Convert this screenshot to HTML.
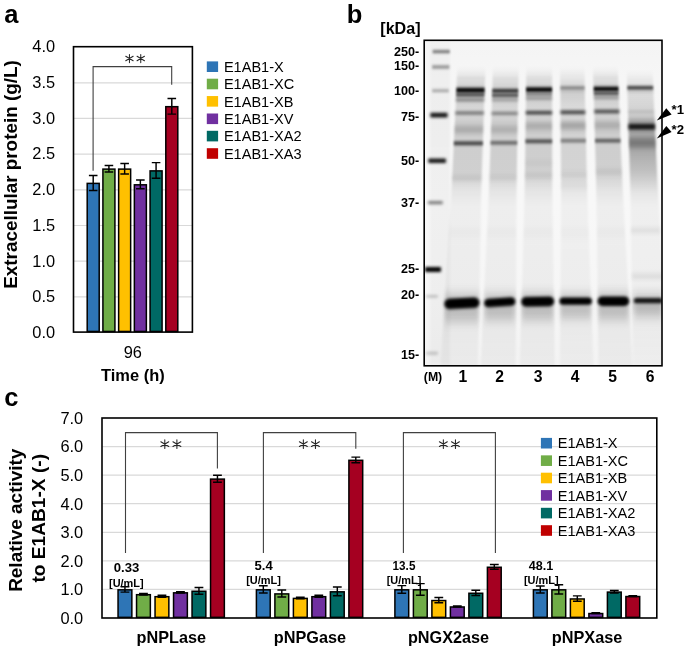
<!DOCTYPE html><html><head><meta charset="utf-8"><title>figure</title>
<style>html,body{margin:0;padding:0;background:#fff;}svg{display:block;will-change:transform;font-family:"Liberation Sans",sans-serif;}</style></head><body>
<svg width="685" height="649" viewBox="0 0 685 649">
<rect width="685" height="649" fill="#fff"/>
<g id="panelA">
<text x="4.2" y="23.0" font-size="25.5" font-weight="bold" text-anchor="start" >a</text>
<line x1="73.5" x2="192.4" y1="296.82" y2="296.82" stroke="#d9d9d9" stroke-width="1.2"/>
<line x1="73.5" x2="192.4" y1="261.15" y2="261.15" stroke="#d9d9d9" stroke-width="1.2"/>
<line x1="73.5" x2="192.4" y1="225.48" y2="225.48" stroke="#d9d9d9" stroke-width="1.2"/>
<line x1="73.5" x2="192.4" y1="189.80" y2="189.80" stroke="#d9d9d9" stroke-width="1.2"/>
<line x1="73.5" x2="192.4" y1="154.12" y2="154.12" stroke="#d9d9d9" stroke-width="1.2"/>
<line x1="73.5" x2="192.4" y1="118.45" y2="118.45" stroke="#d9d9d9" stroke-width="1.2"/>
<line x1="73.5" x2="192.4" y1="82.78" y2="82.78" stroke="#d9d9d9" stroke-width="1.2"/>
<text x="55.1" y="337.85" font-size="16.4" text-anchor="end" >0.0</text>
<text x="55.1" y="302.18" font-size="16.4" text-anchor="end" >0.5</text>
<text x="55.1" y="266.50" font-size="16.4" text-anchor="end" >1.0</text>
<text x="55.1" y="230.83" font-size="16.4" text-anchor="end" >1.5</text>
<text x="55.1" y="195.15" font-size="16.4" text-anchor="end" >2.0</text>
<text x="55.1" y="159.47" font-size="16.4" text-anchor="end" >2.5</text>
<text x="55.1" y="123.80" font-size="16.4" text-anchor="end" >3.0</text>
<text x="55.1" y="88.12" font-size="16.4" text-anchor="end" >3.5</text>
<text x="55.1" y="52.45" font-size="16.4" text-anchor="end" >4.0</text>
<rect x="87.20" y="183.38" width="12.00" height="148.07" fill="#2E75B6" stroke="#000" stroke-width="1.5"/>
<rect x="102.92" y="169.11" width="12.00" height="162.34" fill="#70AD47" stroke="#000" stroke-width="1.5"/>
<rect x="118.64" y="169.11" width="12.00" height="162.34" fill="#FFC000" stroke="#000" stroke-width="1.5"/>
<rect x="134.36" y="184.81" width="12.00" height="146.64" fill="#7030A0" stroke="#000" stroke-width="1.5"/>
<rect x="150.08" y="170.89" width="12.00" height="160.56" fill="#006964" stroke="#000" stroke-width="1.5"/>
<rect x="165.80" y="106.68" width="12.00" height="224.77" fill="#A50021" stroke="#000" stroke-width="1.5"/>
<path d="M93.20 175.56V190.40M88.90 175.56H97.50M88.90 190.40H97.50" stroke="#000" stroke-width="1.45" fill="none"/>
<path d="M108.92 165.50V171.92M104.62 165.50H113.22M104.62 171.92H113.22" stroke="#000" stroke-width="1.45" fill="none"/>
<path d="M124.64 163.50V173.92M120.34 163.50H128.94M120.34 173.92H128.94" stroke="#000" stroke-width="1.45" fill="none"/>
<path d="M140.36 179.98V188.83M136.06 179.98H144.66M136.06 188.83H144.66" stroke="#000" stroke-width="1.45" fill="none"/>
<path d="M156.08 162.64V178.34M151.78 162.64H160.38M151.78 178.34H160.38" stroke="#000" stroke-width="1.45" fill="none"/>
<path d="M171.80 98.43V114.13M167.50 98.43H176.10M167.50 114.13H176.10" stroke="#000" stroke-width="1.45" fill="none"/>
<path d="M93.1 170.8V66.6H171.7V84.8" stroke="#404040" stroke-width="1.1" fill="none"/>
<path d="M129.45 54.40V62.60M125.76 56.24L133.14 60.76M125.76 60.76L133.14 56.24M140.75 54.40V62.60M137.06 56.24L144.44 60.76M137.06 60.76L144.44 56.24" stroke="#262626" stroke-width="1.05" stroke-linecap="round" fill="none"/>
<rect x="73.5" y="46.7" width="118.9" height="285.40000000000003" fill="none" stroke="#000" stroke-width="1.6"/>
<text x="132.85" y="357.7" font-size="16.4" text-anchor="middle" >96</text>
<text x="132.85" y="381.2" font-size="16.4" font-weight="bold" text-anchor="middle" textLength="63.6" lengthAdjust="spacingAndGlyphs" >Time (h)</text>
<text transform="translate(16.6,174.5) rotate(-90)" font-size="18.9" font-weight="bold" text-anchor="middle" textLength="228.6" lengthAdjust="spacingAndGlyphs">Extracellular protein (g/L)</text>
<rect x="206.8" y="61.40" width="11.3" height="10.6" fill="#2E75B6"/>
<text x="223.9" y="71.95" font-size="14.55" text-anchor="start" >E1AB1-X</text>
<rect x="206.8" y="78.70" width="11.3" height="10.6" fill="#70AD47"/>
<text x="223.9" y="89.25" font-size="14.55" text-anchor="start" >E1AB1-XC</text>
<rect x="206.8" y="96.05" width="11.3" height="10.6" fill="#FFC000"/>
<text x="223.9" y="106.60" font-size="14.55" text-anchor="start" >E1AB1-XB</text>
<rect x="206.8" y="113.50" width="11.3" height="10.6" fill="#7030A0"/>
<text x="223.9" y="124.05" font-size="14.55" text-anchor="start" >E1AB1-XV</text>
<rect x="206.8" y="130.80" width="11.3" height="10.6" fill="#006964"/>
<text x="223.9" y="141.35" font-size="14.55" text-anchor="start" >E1AB1-XA2</text>
<rect x="206.8" y="148.20" width="11.3" height="10.6" fill="#C00000"/>
<text x="223.9" y="158.75" font-size="14.55" text-anchor="start" >E1AB1-XA3</text>
</g>
<g id="panelC">
<text x="4.2" y="405.6" font-size="25.5" font-weight="bold" text-anchor="start" >c</text>
<line x1="102.0" x2="656.8" y1="589.43" y2="589.43" stroke="#d9d9d9" stroke-width="1.2"/>
<line x1="102.0" x2="656.8" y1="560.86" y2="560.86" stroke="#d9d9d9" stroke-width="1.2"/>
<line x1="102.0" x2="656.8" y1="532.29" y2="532.29" stroke="#d9d9d9" stroke-width="1.2"/>
<line x1="102.0" x2="656.8" y1="503.71" y2="503.71" stroke="#d9d9d9" stroke-width="1.2"/>
<line x1="102.0" x2="656.8" y1="475.14" y2="475.14" stroke="#d9d9d9" stroke-width="1.2"/>
<line x1="102.0" x2="656.8" y1="446.57" y2="446.57" stroke="#d9d9d9" stroke-width="1.2"/>
<text x="83.2" y="623.90" font-size="16.4" text-anchor="end" >0.0</text>
<text x="83.2" y="595.33" font-size="16.4" text-anchor="end" >1.0</text>
<text x="83.2" y="566.76" font-size="16.4" text-anchor="end" >2.0</text>
<text x="83.2" y="538.19" font-size="16.4" text-anchor="end" >3.0</text>
<text x="83.2" y="509.61" font-size="16.4" text-anchor="end" >4.0</text>
<text x="83.2" y="481.04" font-size="16.4" text-anchor="end" >5.0</text>
<text x="83.2" y="452.47" font-size="16.4" text-anchor="end" >6.0</text>
<text x="83.2" y="423.90" font-size="16.4" text-anchor="end" >7.0</text>
<rect x="118.05" y="589.83" width="13.80" height="27.52" fill="#2E75B6" stroke="#000" stroke-width="1.5"/>
<rect x="136.55" y="594.69" width="13.80" height="22.66" fill="#70AD47" stroke="#000" stroke-width="1.5"/>
<rect x="155.05" y="596.69" width="13.80" height="20.66" fill="#FFC000" stroke="#000" stroke-width="1.5"/>
<rect x="173.55" y="592.83" width="13.80" height="24.52" fill="#7030A0" stroke="#000" stroke-width="1.5"/>
<rect x="192.05" y="591.26" width="13.80" height="26.09" fill="#006964" stroke="#000" stroke-width="1.5"/>
<rect x="210.55" y="479.11" width="13.80" height="138.24" fill="#A50021" stroke="#000" stroke-width="1.5"/>
<path d="M124.95 586.73V592.13M120.55 586.73H129.35M120.55 592.13H129.35" stroke="#000" stroke-width="1.45" fill="none"/>
<path d="M143.45 593.59V594.99M139.05 593.59H147.85M139.05 594.99H147.85" stroke="#000" stroke-width="1.45" fill="none"/>
<path d="M161.95 595.29V597.29M157.55 595.29H166.35M157.55 597.29H166.35" stroke="#000" stroke-width="1.45" fill="none"/>
<path d="M180.45 591.73V593.13M176.05 591.73H184.85M176.05 593.13H184.85" stroke="#000" stroke-width="1.45" fill="none"/>
<path d="M198.95 587.56V594.16M194.55 587.56H203.35M194.55 594.16H203.35" stroke="#000" stroke-width="1.45" fill="none"/>
<path d="M217.45 475.21V482.21M213.05 475.21H221.85M213.05 482.21H221.85" stroke="#000" stroke-width="1.45" fill="none"/>
<rect x="256.40" y="589.83" width="13.80" height="27.52" fill="#2E75B6" stroke="#000" stroke-width="1.5"/>
<rect x="274.90" y="593.91" width="13.80" height="23.44" fill="#70AD47" stroke="#000" stroke-width="1.5"/>
<rect x="293.40" y="598.40" width="13.80" height="18.95" fill="#FFC000" stroke="#000" stroke-width="1.5"/>
<rect x="311.90" y="596.69" width="13.80" height="20.66" fill="#7030A0" stroke="#000" stroke-width="1.5"/>
<rect x="330.40" y="591.83" width="13.80" height="25.52" fill="#006964" stroke="#000" stroke-width="1.5"/>
<rect x="348.90" y="460.31" width="13.80" height="157.04" fill="#A50021" stroke="#000" stroke-width="1.5"/>
<path d="M263.30 585.83V593.03M258.90 585.83H267.70M258.90 593.03H267.70" stroke="#000" stroke-width="1.45" fill="none"/>
<path d="M281.80 590.01V597.01M277.40 590.01H286.20M277.40 597.01H286.20" stroke="#000" stroke-width="1.45" fill="none"/>
<path d="M300.30 597.30V598.70M295.90 597.30H304.70M295.90 598.70H304.70" stroke="#000" stroke-width="1.45" fill="none"/>
<path d="M318.80 595.29V597.29M314.40 595.29H323.20M314.40 597.29H323.20" stroke="#000" stroke-width="1.45" fill="none"/>
<path d="M337.30 587.03V595.83M332.90 587.03H341.70M332.90 595.83H341.70" stroke="#000" stroke-width="1.45" fill="none"/>
<path d="M355.80 457.11V462.71M351.40 457.11H360.20M351.40 462.71H360.20" stroke="#000" stroke-width="1.45" fill="none"/>
<rect x="394.90" y="589.83" width="13.80" height="27.52" fill="#2E75B6" stroke="#000" stroke-width="1.5"/>
<rect x="413.40" y="589.83" width="13.80" height="27.52" fill="#70AD47" stroke="#000" stroke-width="1.5"/>
<rect x="431.90" y="600.54" width="13.80" height="16.81" fill="#FFC000" stroke="#000" stroke-width="1.5"/>
<rect x="450.40" y="606.97" width="13.80" height="10.38" fill="#7030A0" stroke="#000" stroke-width="1.5"/>
<rect x="468.90" y="593.26" width="13.80" height="24.09" fill="#006964" stroke="#000" stroke-width="1.5"/>
<rect x="487.40" y="567.26" width="13.80" height="50.09" fill="#A50021" stroke="#000" stroke-width="1.5"/>
<path d="M401.80 585.63V593.23M397.40 585.63H406.20M397.40 593.23H406.20" stroke="#000" stroke-width="1.45" fill="none"/>
<path d="M420.30 583.63V595.23M415.90 583.63H424.70M415.90 595.23H424.70" stroke="#000" stroke-width="1.45" fill="none"/>
<path d="M438.80 597.44V602.84M434.40 597.44H443.20M434.40 602.84H443.20" stroke="#000" stroke-width="1.45" fill="none"/>
<path d="M457.30 606.07V607.07M452.90 606.07H461.70M452.90 607.07H461.70" stroke="#000" stroke-width="1.45" fill="none"/>
<path d="M475.80 590.26V595.46M471.40 590.26H480.20M471.40 595.46H480.20" stroke="#000" stroke-width="1.45" fill="none"/>
<path d="M494.30 564.46V569.26M489.90 564.46H498.70M489.90 569.26H498.70" stroke="#000" stroke-width="1.45" fill="none"/>
<rect x="533.40" y="589.83" width="13.80" height="27.52" fill="#2E75B6" stroke="#000" stroke-width="1.5"/>
<rect x="551.90" y="589.83" width="13.80" height="27.52" fill="#70AD47" stroke="#000" stroke-width="1.5"/>
<rect x="570.40" y="598.97" width="13.80" height="18.38" fill="#FFC000" stroke="#000" stroke-width="1.5"/>
<rect x="588.90" y="613.54" width="13.80" height="3.81" fill="#7030A0" stroke="#000" stroke-width="1.5"/>
<rect x="607.40" y="592.11" width="13.80" height="25.24" fill="#006964" stroke="#000" stroke-width="1.5"/>
<rect x="625.90" y="596.54" width="13.80" height="20.81" fill="#A50021" stroke="#000" stroke-width="1.5"/>
<path d="M540.30 585.93V592.93M535.90 585.93H544.70M535.90 592.93H544.70" stroke="#000" stroke-width="1.45" fill="none"/>
<path d="M558.80 584.83V594.03M554.40 584.83H563.20M554.40 594.03H563.20" stroke="#000" stroke-width="1.45" fill="none"/>
<path d="M577.30 595.87V601.27M572.90 595.87H581.70M572.90 601.27H581.70" stroke="#000" stroke-width="1.45" fill="none"/>
<path d="M595.80 612.74V613.54M591.40 612.74H600.20M591.40 613.54H600.20" stroke="#000" stroke-width="1.45" fill="none"/>
<path d="M614.30 590.41V593.01M609.90 590.41H618.70M609.90 593.01H618.70" stroke="#000" stroke-width="1.45" fill="none"/>
<path d="M632.80 595.74V596.54M628.40 595.74H637.20M628.40 596.54H637.20" stroke="#000" stroke-width="1.45" fill="none"/>
<path d="M125.5 553V432.6H217.4V468.5" stroke="#404040" stroke-width="1.1" fill="none"/>
<path d="M263.4 553V432.6H355.8V448.8" stroke="#404040" stroke-width="1.1" fill="none"/>
<path d="M403.4 553V432.6H495.4V553" stroke="#404040" stroke-width="1.1" fill="none"/>
<path d="M164.80 439.75V448.55M160.84 441.73L168.76 446.57M160.84 446.57L168.76 441.73M176.90 439.75V448.55M172.94 441.73L180.86 446.57M172.94 446.57L180.86 441.73" stroke="#262626" stroke-width="1.05" stroke-linecap="round" fill="none"/>
<path d="M303.35 439.75V448.55M299.39 441.73L307.31 446.57M299.39 446.57L307.31 441.73M315.45 439.75V448.55M311.49 441.73L319.41 446.57M311.49 446.57L319.41 441.73" stroke="#262626" stroke-width="1.05" stroke-linecap="round" fill="none"/>
<path d="M443.35 439.75V448.55M439.39 441.73L447.31 446.57M439.39 446.57L447.31 441.73M455.45 439.75V448.55M451.49 441.73L459.41 446.57M451.49 446.57L459.41 441.73" stroke="#262626" stroke-width="1.05" stroke-linecap="round" fill="none"/>
<rect x="102.0" y="418.0" width="554.8" height="200.0" fill="none" stroke="#000" stroke-width="1.6"/>
<text x="126.5" y="572.3" font-size="12.6" font-weight="bold" text-anchor="middle" textLength="25.6" lengthAdjust="spacingAndGlyphs" >0.33</text>
<text x="126.3" y="586.6" font-size="11.3" font-weight="bold" text-anchor="middle" textLength="34.6" lengthAdjust="spacingAndGlyphs" >[U/mL]</text>
<text x="263.6" y="569.9" font-size="12.6" font-weight="bold" text-anchor="middle" textLength="18.2" lengthAdjust="spacingAndGlyphs" >5.4</text>
<text x="263.6" y="584.2" font-size="11.3" font-weight="bold" text-anchor="middle" textLength="34.8" lengthAdjust="spacingAndGlyphs" >[U/mL]</text>
<text x="404.0" y="569.9" font-size="12.6" font-weight="bold" text-anchor="middle" textLength="22.8" lengthAdjust="spacingAndGlyphs" >13.5</text>
<text x="404.0" y="584.2" font-size="11.3" font-weight="bold" text-anchor="middle" textLength="34.6" lengthAdjust="spacingAndGlyphs" >[U/mL]</text>
<text x="541.0" y="569.9" font-size="12.6" font-weight="bold" text-anchor="middle" textLength="24.5" lengthAdjust="spacingAndGlyphs" >48.1</text>
<text x="541.3" y="584.2" font-size="11.3" font-weight="bold" text-anchor="middle" textLength="34.8" lengthAdjust="spacingAndGlyphs" >[U/mL]</text>
<text x="171.3" y="642.8" font-size="16.3" font-weight="bold" text-anchor="middle" textLength="69.5" lengthAdjust="spacingAndGlyphs" >pNPLase</text>
<text x="310.0" y="642.8" font-size="16.3" font-weight="bold" text-anchor="middle" textLength="72.3" lengthAdjust="spacingAndGlyphs" >pNPGase</text>
<text x="448.5" y="642.8" font-size="16.3" font-weight="bold" text-anchor="middle" textLength="81.1" lengthAdjust="spacingAndGlyphs" >pNGX2ase</text>
<text x="587.1" y="642.8" font-size="16.3" font-weight="bold" text-anchor="middle" textLength="70.6" lengthAdjust="spacingAndGlyphs" >pNPXase</text>
<text transform="translate(22.2,520.25) rotate(-90)" font-size="18.9" font-weight="bold" text-anchor="middle" textLength="143.2" lengthAdjust="spacingAndGlyphs">Relative activity</text>
<text transform="translate(45.0,518.25) rotate(-90)" font-size="18.9" font-weight="bold" text-anchor="middle" textLength="128.6" lengthAdjust="spacingAndGlyphs">to E1AB1-X (-)</text>
<rect x="540.9" y="437.90" width="11.1" height="10.6" fill="#2E75B6"/>
<text x="557.7" y="448.45" font-size="14.55" text-anchor="start" >E1AB1-X</text>
<rect x="540.9" y="455.35" width="11.1" height="10.6" fill="#70AD47"/>
<text x="557.7" y="465.90" font-size="14.55" text-anchor="start" >E1AB1-XC</text>
<rect x="540.9" y="472.70" width="11.1" height="10.6" fill="#FFC000"/>
<text x="557.7" y="483.25" font-size="14.55" text-anchor="start" >E1AB1-XB</text>
<rect x="540.9" y="490.10" width="11.1" height="10.6" fill="#7030A0"/>
<text x="557.7" y="500.65" font-size="14.55" text-anchor="start" >E1AB1-XV</text>
<rect x="540.9" y="507.80" width="11.1" height="10.6" fill="#006964"/>
<text x="557.7" y="518.35" font-size="14.55" text-anchor="start" >E1AB1-XA2</text>
<rect x="540.9" y="525.20" width="11.1" height="10.6" fill="#C00000"/>
<text x="557.7" y="535.75" font-size="14.55" text-anchor="start" >E1AB1-XA3</text>
</g>
<g id="panelB">
<text x="346.8" y="23.0" font-size="25.5" font-weight="bold" text-anchor="start" >b</text>
<text x="380.3" y="33.7" font-size="15.6" font-weight="bold" text-anchor="start" textLength="40.3" lengthAdjust="spacingAndGlyphs" >[kDa]</text>
<defs>
<clipPath id="gelclip"><rect x="424.2" y="40.3" width="237.8" height="325.5"/></clipPath>
<filter id="b06" x="-20%" y="-300%" width="140%" height="700%"><feGaussianBlur stdDeviation="1.2 1.35"/></filter>
<filter id="b10" x="-20%" y="-300%" width="140%" height="700%"><feGaussianBlur stdDeviation="1.5 1.7"/></filter>
<filter id="b20" x="-30%" y="-300%" width="160%" height="700%"><feGaussianBlur stdDeviation="1.8 2.6"/></filter>
<filter id="b40" x="-30%" y="-100%" width="160%" height="300%"><feGaussianBlur stdDeviation="2.0 5.0"/></filter>
<filter id="lane" x="-20%" y="-5%" width="140%" height="110%"><feGaussianBlur stdDeviation="1.3 2.5"/></filter>
<linearGradient id="gelbg" gradientUnits="userSpaceOnUse" x1="0" y1="40.3" x2="0" y2="365.8"><stop offset="0" stop-color="#f4f4f4"/><stop offset="0.12" stop-color="#f6f6f6"/><stop offset="0.5" stop-color="#f8f8f8"/><stop offset="0.8" stop-color="#f6f6f6"/><stop offset="1" stop-color="#f3f3f3"/></linearGradient>
<linearGradient id="lg1" gradientUnits="userSpaceOnUse" x1="0" y1="40.3" x2="0" y2="365.8"><stop offset="-0.0009" stop-color="#000" stop-opacity="0"/><stop offset="0.0851" stop-color="#000" stop-opacity="0.0"/><stop offset="0.1097" stop-color="#000" stop-opacity="0.06"/><stop offset="0.1343" stop-color="#000" stop-opacity="0.13"/><stop offset="0.1711" stop-color="#000" stop-opacity="0.18"/><stop offset="0.2018" stop-color="#000" stop-opacity="0.13"/><stop offset="0.2326" stop-color="#000" stop-opacity="0.14"/><stop offset="0.2694" stop-color="#000" stop-opacity="0.2"/><stop offset="0.2940" stop-color="#000" stop-opacity="0.16"/><stop offset="0.3370" stop-color="#000" stop-opacity="0.165"/><stop offset="0.4046" stop-color="#000" stop-opacity="0.16"/><stop offset="0.4292" stop-color="#000" stop-opacity="0.13"/><stop offset="0.4661" stop-color="#000" stop-opacity="0.075"/><stop offset="0.5060" stop-color="#000" stop-opacity="0.04"/><stop offset="0.5644" stop-color="#000" stop-opacity="0.037"/><stop offset="0.5889" stop-color="#000" stop-opacity="0.06"/><stop offset="0.6197" stop-color="#000" stop-opacity="0.037"/><stop offset="0.7518" stop-color="#000" stop-opacity="0.04"/><stop offset="0.7794" stop-color="#000" stop-opacity="0.08"/><stop offset="0.8286" stop-color="#000" stop-opacity="0.1"/><stop offset="0.8531" stop-color="#000" stop-opacity="0.07"/><stop offset="0.8900" stop-color="#000" stop-opacity="0.05"/><stop offset="0.9361" stop-color="#000" stop-opacity="0.04"/><stop offset="1.0006" stop-color="#000" stop-opacity="0.035"/></linearGradient>
<linearGradient id="lg4" gradientUnits="userSpaceOnUse" x1="0" y1="40.3" x2="0" y2="365.8"><stop offset="-0.0009" stop-color="#000" stop-opacity="0.0"/><stop offset="0.0851" stop-color="#000" stop-opacity="0.0"/><stop offset="0.1097" stop-color="#000" stop-opacity="0.053"/><stop offset="0.1343" stop-color="#000" stop-opacity="0.114"/><stop offset="0.1711" stop-color="#000" stop-opacity="0.158"/><stop offset="0.2018" stop-color="#000" stop-opacity="0.114"/><stop offset="0.2326" stop-color="#000" stop-opacity="0.123"/><stop offset="0.2694" stop-color="#000" stop-opacity="0.176"/><stop offset="0.2940" stop-color="#000" stop-opacity="0.141"/><stop offset="0.3370" stop-color="#000" stop-opacity="0.145"/><stop offset="0.4046" stop-color="#000" stop-opacity="0.141"/><stop offset="0.4292" stop-color="#000" stop-opacity="0.114"/><stop offset="0.4661" stop-color="#000" stop-opacity="0.066"/><stop offset="0.5060" stop-color="#000" stop-opacity="0.035"/><stop offset="0.5644" stop-color="#000" stop-opacity="0.033"/><stop offset="0.5889" stop-color="#000" stop-opacity="0.053"/><stop offset="0.6197" stop-color="#000" stop-opacity="0.033"/><stop offset="0.7518" stop-color="#000" stop-opacity="0.035"/><stop offset="0.7794" stop-color="#000" stop-opacity="0.07"/><stop offset="0.8286" stop-color="#000" stop-opacity="0.088"/><stop offset="0.8531" stop-color="#000" stop-opacity="0.062"/><stop offset="0.8900" stop-color="#000" stop-opacity="0.044"/><stop offset="0.9361" stop-color="#000" stop-opacity="0.035"/><stop offset="1.0006" stop-color="#000" stop-opacity="0.031"/></linearGradient>
<linearGradient id="lg6" gradientUnits="userSpaceOnUse" x1="0" y1="40.3" x2="0" y2="365.8"><stop offset="-0.0009" stop-color="#000" stop-opacity="0"/><stop offset="0.0974" stop-color="#000" stop-opacity="0.0"/><stop offset="0.1220" stop-color="#000" stop-opacity="0.06"/><stop offset="0.1465" stop-color="#000" stop-opacity="0.1"/><stop offset="0.1834" stop-color="#000" stop-opacity="0.12"/><stop offset="0.2203" stop-color="#000" stop-opacity="0.15"/><stop offset="0.2449" stop-color="#000" stop-opacity="0.2"/><stop offset="0.2940" stop-color="#000" stop-opacity="0.3"/><stop offset="0.3247" stop-color="#000" stop-opacity="0.34"/><stop offset="0.3677" stop-color="#000" stop-opacity="0.27"/><stop offset="0.4046" stop-color="#000" stop-opacity="0.22"/><stop offset="0.4353" stop-color="#000" stop-opacity="0.15"/><stop offset="0.4722" stop-color="#000" stop-opacity="0.07"/><stop offset="0.5091" stop-color="#000" stop-opacity="0.035"/><stop offset="0.7518" stop-color="#000" stop-opacity="0.03"/><stop offset="0.7856" stop-color="#000" stop-opacity="0.08"/><stop offset="0.8163" stop-color="#000" stop-opacity="0.14"/><stop offset="0.8409" stop-color="#000" stop-opacity="0.08"/><stop offset="0.8777" stop-color="#000" stop-opacity="0.04"/><stop offset="1.0006" stop-color="#000" stop-opacity="0.02"/></linearGradient>
<linearGradient id="lgM" gradientUnits="userSpaceOnUse" x1="0" y1="40.3" x2="0" y2="365.8"><stop offset="-0.0009" stop-color="#000" stop-opacity="0.01"/><stop offset="0.0605" stop-color="#000" stop-opacity="0.025"/><stop offset="0.2449" stop-color="#000" stop-opacity="0.035"/><stop offset="0.4906" stop-color="#000" stop-opacity="0.03"/><stop offset="0.7978" stop-color="#000" stop-opacity="0.03"/><stop offset="1.0006" stop-color="#000" stop-opacity="0.03"/></linearGradient>
</defs>
<g clip-path="url(#gelclip)">
<rect x="424.2" y="40.3" width="237.8" height="325.5" fill="url(#gelbg)"/>
<rect x="430" y="40.3" width="20" height="325.5" fill="url(#lgM)" filter="url(#lane)"/>
<polygon points="458.6,35.3 456.4,90 451.5,190 444.6,302 440.4,370.8 477.8,370.8 479.2,302 481.3,190 484.6,90 486.8,35.3" fill="url(#lg1)" filter="url(#lane)"/>
<polygon points="493.7,35.3 492.3,90 489.0,190 483.7,302 480.6,370.8 515.6,370.8 516.0,302 516.5,190 518.2,90 519.6,35.3" fill="url(#lg1)" filter="url(#lane)"/>
<polygon points="526.4,35.3 526.1,90 524.7,190 521.6,302 519.7,370.8 554.9,370.8 553.9,302 552.3,190 552.1,90 552.4,35.3" fill="url(#lg1)" filter="url(#lane)"/>
<polygon points="559.5,35.3 560.3,90 561.1,190 560.4,302 560.0,370.8 593.6,370.8 591.1,302 587.1,190 584.8,90 583.9,35.3" fill="url(#lg4)" filter="url(#lane)"/>
<polygon points="591.8,35.3 593.7,90 596.3,190 597.8,302 598.7,370.8 632.7,370.8 628.9,302 622.7,190 618.5,90 616.6,35.3" fill="url(#lg1)" filter="url(#lane)"/>
<polygon points="625.4,35.3 627.4,90 630.3,190 632.1,302 633.3,370.8 668.4,370.8 664.4,302 657.8,190 653.3,90 651.3,35.3" fill="url(#lg6)" filter="url(#lane)"/>
<polygon points="456.9,77.45 485.1,77.45 485.1,78.95 456.9,78.95" fill="#000" fill-opacity="0.08" filter="url(#b06)"/>
<polygon points="456.4,87.80 484.6,87.80 484.6,92.60 456.4,92.60" fill="#000" fill-opacity="1.0" filter="url(#b06)"/>
<polygon points="456.2,93.40 484.4,93.40 484.4,96.40 456.2,96.40" fill="#000" fill-opacity="0.72" filter="url(#b06)"/>
<polygon points="455.9,98.30 484.3,98.30 484.3,101.50 455.9,101.50" fill="#000" fill-opacity="0.36" filter="url(#b10)"/>
<polygon points="455.3,111.20 483.9,111.20 483.9,114.80 455.3,114.80" fill="#000" fill-opacity="0.42" filter="url(#b10)"/>
<polygon points="454.5,126.45 483.3,126.45 483.3,132.95 454.5,132.95" fill="#000" fill-opacity="0.17" filter="url(#b20)"/>
<polygon points="453.8,141.40 482.9,141.40 482.9,145.20 453.8,145.20" fill="#000" fill-opacity="0.7" filter="url(#b06)"/>
<polygon points="452.1,176.00 481.7,176.00 481.7,180.00 452.1,180.00" fill="#000" fill-opacity="0.12" filter="url(#b20)"/>
<polygon points="492.6,77.75 518.5,77.75 518.5,79.25 492.6,79.25" fill="#000" fill-opacity="0.06" filter="url(#b06)"/>
<polygon points="492.3,89.00 518.2,89.00 518.2,92.60 492.3,92.60" fill="#000" fill-opacity="0.82" filter="url(#b06)"/>
<polygon points="492.1,93.80 518.1,93.80 518.1,96.80 492.1,96.80" fill="#000" fill-opacity="0.7" filter="url(#b06)"/>
<polygon points="492.0,98.50 518.0,98.50 518.0,101.30 492.0,101.30" fill="#000" fill-opacity="0.26" filter="url(#b10)"/>
<polygon points="491.5,111.70 517.8,111.70 517.8,115.10 491.5,115.10" fill="#000" fill-opacity="0.38" filter="url(#b10)"/>
<polygon points="491.0,126.45 517.5,126.45 517.5,132.95 491.0,132.95" fill="#000" fill-opacity="0.14" filter="url(#b20)"/>
<polygon points="490.5,141.10 517.3,141.10 517.3,144.50 490.5,144.50" fill="#000" fill-opacity="0.54" filter="url(#b06)"/>
<polygon points="489.4,175.50 516.7,175.50 516.7,179.50 489.4,179.50" fill="#000" fill-opacity="0.09" filter="url(#b20)"/>
<polygon points="526.2,77.25 552.2,77.25 552.2,78.75 526.2,78.75" fill="#000" fill-opacity="0.06" filter="url(#b06)"/>
<polygon points="526.1,87.30 552.1,87.30 552.1,91.90 526.1,91.90" fill="#000" fill-opacity="1.0" filter="url(#b06)"/>
<polygon points="526.0,93.00 552.1,93.00 552.1,95.60 526.0,95.60" fill="#000" fill-opacity="0.42" filter="url(#b06)"/>
<polygon points="526.0,97.00 552.1,97.00 552.1,99.80 526.0,99.80" fill="#000" fill-opacity="0.28" filter="url(#b10)"/>
<polygon points="525.8,110.80 552.1,110.80 552.1,114.60 525.8,114.60" fill="#000" fill-opacity="0.66" filter="url(#b10)"/>
<polygon points="525.6,122.65 552.2,122.65 552.2,129.15 525.6,129.15" fill="#000" fill-opacity="0.16" filter="url(#b20)"/>
<polygon points="525.4,139.40 552.2,139.40 552.2,143.20 525.4,143.20" fill="#000" fill-opacity="0.64" filter="url(#b06)"/>
<polygon points="525.1,161.00 552.2,161.00 552.2,165.00 525.1,165.00" fill="#000" fill-opacity="0.06" filter="url(#b20)"/>
<polygon points="524.9,173.60 552.2,173.60 552.2,177.60 524.9,177.60" fill="#000" fill-opacity="0.1" filter="url(#b20)"/>
<polygon points="560.3,86.40 584.7,86.40 584.7,89.40 560.3,89.40" fill="#000" fill-opacity="0.44" filter="url(#b06)"/>
<polygon points="560.4,90.50 584.8,90.50 584.8,92.50 560.4,92.50" fill="#000" fill-opacity="0.1" filter="url(#b10)"/>
<polygon points="560.5,110.30 585.3,110.30 585.3,114.30 560.5,114.30" fill="#000" fill-opacity="0.64" filter="url(#b10)"/>
<polygon points="560.6,122.00 585.6,122.00 585.6,129.00 560.6,129.00" fill="#000" fill-opacity="0.22" filter="url(#b20)"/>
<polygon points="560.7,138.90 585.9,138.90 585.9,142.50 560.7,142.50" fill="#000" fill-opacity="0.44" filter="url(#b06)"/>
<polygon points="561.0,173.00 586.7,173.00 586.7,177.00 561.0,177.00" fill="#000" fill-opacity="0.08" filter="url(#b20)"/>
<polygon points="561.0,184.00 587.0,184.00 587.0,188.00 561.0,188.00" fill="#000" fill-opacity="0.05" filter="url(#b20)"/>
<polygon points="593.3,76.75 618.1,76.75 618.1,78.25 593.3,78.25" fill="#000" fill-opacity="0.05" filter="url(#b06)"/>
<polygon points="593.7,86.70 618.5,86.70 618.5,91.10 593.7,91.10" fill="#000" fill-opacity="1.0" filter="url(#b06)"/>
<polygon points="593.8,92.00 618.6,92.00 618.6,94.80 593.8,94.80" fill="#000" fill-opacity="0.7" filter="url(#b06)"/>
<polygon points="593.9,96.30 618.8,96.30 618.8,99.10 593.9,99.10" fill="#000" fill-opacity="0.28" filter="url(#b10)"/>
<polygon points="594.3,109.50 619.4,109.50 619.4,113.50 594.3,113.50" fill="#000" fill-opacity="0.6" filter="url(#b10)"/>
<polygon points="594.6,121.75 620.0,121.75 620.0,128.25 594.6,128.25" fill="#000" fill-opacity="0.16" filter="url(#b20)"/>
<polygon points="595.0,138.90 620.6,138.90 620.6,142.50 595.0,142.50" fill="#000" fill-opacity="0.58" filter="url(#b06)"/>
<polygon points="595.8,169.50 622.0,169.50 622.0,174.50 595.8,174.50" fill="#000" fill-opacity="0.08" filter="url(#b20)"/>
<polygon points="627.3,86.10 653.2,86.10 653.2,89.50 627.3,89.50" fill="#000" fill-opacity="0.78" filter="url(#b06)"/>
<polygon points="627.5,91.00 653.4,91.00 653.4,93.00 627.5,93.00" fill="#000" fill-opacity="0.1" filter="url(#b10)"/>
<polygon points="628.0,110.30 654.3,110.30 654.3,113.30 628.0,113.30" fill="#000" fill-opacity="0.1" filter="url(#b10)"/>
<polygon points="628.5,119.50 654.9,119.50 654.9,132.50 628.5,132.50" fill="#000" fill-opacity="0.22" filter="url(#b20)"/>
<polygon points="628.5,124.00 655.0,124.00 655.0,129.40 628.5,129.40" fill="#000" fill-opacity="0.84" filter="url(#b10)"/>
<polygon points="628.9,137.50 655.7,137.50 655.7,147.50 628.9,147.50" fill="#000" fill-opacity="0.28" filter="url(#b20)"/>
<polygon points="631.0,228.70 660.2,228.70 660.2,232.30 631.0,232.30" fill="#000" fill-opacity="0.11" filter="url(#b20)"/>
<polygon points="631.7,274.50 662.9,274.50 662.9,278.10 631.7,278.10" fill="#000" fill-opacity="0.12" filter="url(#b20)"/>
<rect x="445.3" y="294.9" width="33.2" height="27.6" fill="#000" fill-opacity="0.15" filter="url(#b40)"/>
<rect x="444.3" y="297.90" width="35.2" height="10.6" rx="5.3" fill="#000" fill-opacity="1.0" filter="url(#b10)" transform="rotate(-2.88 461.9 303.2)"/>
<rect x="485.2" y="295.0" width="29.2" height="25.6" fill="#000" fill-opacity="0.15" filter="url(#b40)"/>
<rect x="484.2" y="298.00" width="31.2" height="8.6" rx="4.3" fill="#000" fill-opacity="1.0" filter="url(#b10)" transform="rotate(-3.84 499.9 302.3)"/>
<rect x="522.2" y="293.8" width="31.0" height="26.6" fill="#000" fill-opacity="0.15" filter="url(#b40)"/>
<rect x="521.2" y="296.80" width="33.0" height="9.6" rx="4.8" fill="#000" fill-opacity="1.0" filter="url(#b10)" transform="rotate(-0.96 537.8 301.6)"/>
<rect x="560.5" y="294.6" width="30.4" height="24.2" fill="#000" fill-opacity="0.15" filter="url(#b40)"/>
<rect x="559.5" y="297.60" width="32.4" height="7.2" rx="3.6" fill="#000" fill-opacity="1.0" filter="url(#b10)" transform="rotate(-0.00 575.8 301.2)"/>
<rect x="598.6" y="293.4" width="29.6" height="26.6" fill="#000" fill-opacity="0.15" filter="url(#b40)"/>
<rect x="597.6" y="296.40" width="31.6" height="9.6" rx="4.8" fill="#000" fill-opacity="1.0" filter="url(#b10)" transform="rotate(-0.00 613.4 301.2)"/>
<rect x="634.8" y="295.1" width="27.0" height="22.2" fill="#000" fill-opacity="0.14" filter="url(#b40)"/>
<rect x="633.8" y="298.10" width="29.0" height="5.2" rx="2.6" fill="#000" fill-opacity="0.9" filter="url(#b10)" transform="rotate(-0.00 648.2 300.7)"/>
<rect x="432.5" y="50.30" width="17.5" height="2.8" rx="1" fill="#000" fill-opacity="0.58" filter="url(#b06)"/>
<rect x="432" y="65.60" width="17.5" height="2.8" rx="1" fill="#000" fill-opacity="0.44" filter="url(#b06)"/>
<rect x="432" y="89.50" width="17.0" height="2.6" rx="1" fill="#000" fill-opacity="0.36" filter="url(#b06)"/>
<rect x="430.3" y="112.80" width="17.3" height="4.8" rx="1" fill="#000" fill-opacity="0.9" filter="url(#b10)"/>
<rect x="428.2" y="158.50" width="17.8" height="4.6" rx="1" fill="#000" fill-opacity="0.9" filter="url(#b10)"/>
<rect x="427.8" y="201.10" width="15.0" height="3.2" rx="1" fill="#000" fill-opacity="0.48" filter="url(#b10)"/>
<rect x="425.0" y="267.00" width="16.0" height="5.0" rx="1" fill="#000" fill-opacity="1.0" filter="url(#b10)"/>
<rect x="426" y="295.30" width="12.0" height="2.2" rx="1" fill="#000" fill-opacity="0.25" filter="url(#b10)"/>
<rect x="426" y="351.80" width="12.0" height="3.0" rx="1" fill="#000" fill-opacity="0.2" filter="url(#b10)"/>
</g>
<rect x="424.2" y="40.3" width="237.8" height="325.5" fill="none" stroke="#000" stroke-width="1.6"/>
<text x="419.3" y="55.80" font-size="12.6" font-weight="bold" text-anchor="end" >250-</text>
<text x="419.3" y="69.50" font-size="12.6" font-weight="bold" text-anchor="end" >150-</text>
<text x="419.3" y="94.60" font-size="12.6" font-weight="bold" text-anchor="end" >100-</text>
<text x="419.3" y="120.50" font-size="12.6" font-weight="bold" text-anchor="end" >75-</text>
<text x="419.3" y="164.90" font-size="12.6" font-weight="bold" text-anchor="end" >50-</text>
<text x="419.3" y="207.00" font-size="12.6" font-weight="bold" text-anchor="end" >37-</text>
<text x="419.3" y="272.90" font-size="12.6" font-weight="bold" text-anchor="end" >25-</text>
<text x="419.3" y="299.00" font-size="12.6" font-weight="bold" text-anchor="end" >20-</text>
<text x="419.3" y="358.70" font-size="12.6" font-weight="bold" text-anchor="end" >15-</text>
<text x="433.0" y="381.4" font-size="12.3" font-weight="bold" text-anchor="middle" >(M)</text>
<text x="462.9" y="381.8" font-size="15.7" font-weight="bold" text-anchor="middle" >1</text>
<text x="499.5" y="381.8" font-size="15.7" font-weight="bold" text-anchor="middle" >2</text>
<text x="538" y="381.8" font-size="15.7" font-weight="bold" text-anchor="middle" >3</text>
<text x="575.2" y="381.8" font-size="15.7" font-weight="bold" text-anchor="middle" >4</text>
<text x="612.6" y="381.8" font-size="15.7" font-weight="bold" text-anchor="middle" >5</text>
<text x="650.0" y="381.8" font-size="15.7" font-weight="bold" text-anchor="middle" >6</text>
<polygon points="656.8,120.6 666.3,108.2 671.6,114.4" fill="#000"/>
<polygon points="656.8,138.4 666.3,126.0 671.6,131.9" fill="#000"/>
<text x="671.6" y="114.4" font-size="13.2" font-weight="bold" text-anchor="start" >*1</text>
<text x="671.6" y="134.4" font-size="13.2" font-weight="bold" text-anchor="start" >*2</text>
</g>
</svg></body></html>
